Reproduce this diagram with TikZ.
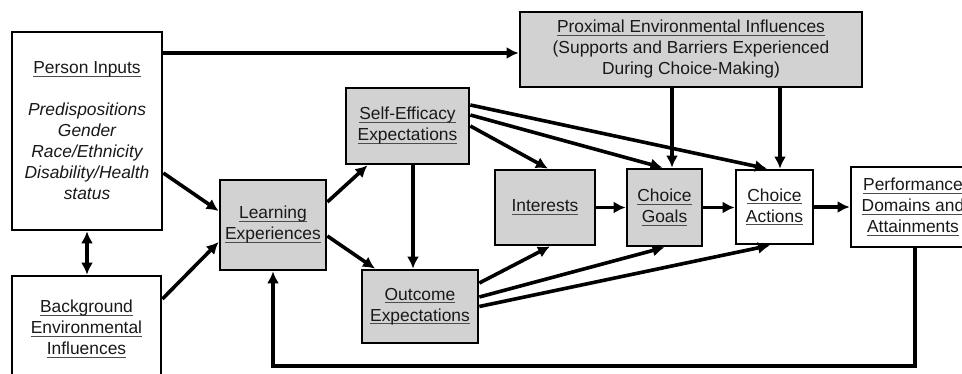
\documentclass[tikz,border=0pt]{standalone}
\usepackage{fontspec}
\setmainfont{Liberation Sans}
\usetikzlibrary{arrows.meta}
\newsavebox{\myulbox}
\newcommand{\ulx}[1]{\leavevmode\sbox{\myulbox}{#1}\rlap{\color{black!70}\vrule width\wd\myulbox height -2.0pt depth 3.0pt}\usebox{\myulbox}}
\begin{document}
\begin{tikzpicture}[x=1pt,y=-1pt,
  box/.style={draw=black,line width=2.7pt,align=center,inner sep=0pt,
    font=\fontsize{17.4}{21}\selectfont,text=black!90},
  gbox/.style={box,fill=gray!35},
  arr/.style={line width=3.6pt,-{Latex[length=12pt,width=12pt]}},
  darr/.style={line width=3.6pt,{Latex[length=12pt,width=12pt]}-{Latex[length=12pt,width=12pt]}}]
\useasboundingbox (0,0) rectangle (962,374);
\clip (0,0) rectangle (962,374);
\fill[white] (0,0) rectangle (962,374);
% nodes
\node[box,minimum width=150pt,minimum height=198pt] (person) at (87,131)
  {\ulx{Person Inputs}\\[21pt]\itshape Predispositions\\\itshape Gender\\\itshape Race/Ethnicity\\\itshape Disability/Health\\\itshape status};
\node[box,minimum width=149pt,minimum height=106pt] (bg) at (86.5,329)
  {\ulx{Background}\\\ulx{Environmental}\\\ulx{Influences}};
\node[gbox,minimum width=106pt,minimum height=90pt] (learn) at (273,225)
  {\ulx{Learning}\\\ulx{Experiences}};
\node[gbox,minimum width=342pt,minimum height=75pt] (prox) at (691,49.5)
  {\ulx{Proximal Environmental Influences}\\(Supports and Barriers Experienced\\During Choice-Making)};
\node[gbox,minimum width=123pt,minimum height=76pt] (se) at (407.5,126)
  {\ulx{Self-Efficacy}\\\ulx{Expectations}};
\node[gbox,minimum width=116pt,minimum height=73pt] (oe) at (420,306.5)
  {\ulx{Outcome}\\\ulx{Expectations}};
\node[gbox,minimum width=100pt,minimum height=75pt] (int) at (545,207.5)
  {\ulx{Interests}};
\node[gbox,minimum width=75pt,minimum height=77pt] (cg) at (664.5,207.5)
  {\ulx{Choice}\\\ulx{Goals}};
\node[box,minimum width=77pt,minimum height=74pt] (ca) at (774.5,207)
  {\ulx{Choice}\\\ulx{Actions}};
\node[box,minimum width=124pt,minimum height=80pt] (perf) at (913,207)
  {\ulx{Performance}\\\ulx{Domains and}\\\ulx{Attainments}};
% connectors
\draw[darr] (person.south) -- (person.south |- bg.north);
\draw[arr] ([yshift=-42pt]person.east) -- ([yshift=14pt]learn.west);
\draw[arr] ([yshift=30pt]bg.east) -- ([yshift=-17pt]learn.west);
\draw[arr] ([yshift=78pt]person.east) -- ([yshift=78pt]person.east -| prox.west);
\draw[arr] ([yshift=23pt]learn.east) -- ([xshift=-40pt]se.south);
\draw[arr] ([yshift=-11pt]learn.east) -- ([xshift=-45pt]oe.north);
\draw[arr] ([xshift=5.5pt]se.south) -- ([xshift=5.5pt]se.south |- oe.north);
\draw[arr] (se.east) -- ([xshift=3pt]int.north);
\draw[arr] ([yshift=11pt]se.east) -- ([xshift=-2pt]cg.north);
\draw[arr] ([yshift=21pt]se.east) -- ([xshift=-7.5pt]ca.north);
\draw[arr] (int.east) -- (int.east -| cg.west);
\draw[arr] ([yshift=23.5pt]oe.east) -- ([xshift=5pt]int.south);
\draw[arr] ([yshift=9.5pt]oe.east) -- (cg.south);
\draw[arr] (oe.east) -- ([xshift=-4.5pt]ca.south);
\draw[arr] (cg.east) -- (cg.east -| ca.west);
\draw[arr] (ca.east) -- (ca.east -| perf.west);
\draw[arr] ([xshift=7.5pt]cg.north |- prox.south) -- ([xshift=7.5pt]cg.north);
\draw[arr] ([xshift=5.5pt]ca.north |- prox.south) -- ([xshift=5.5pt]ca.north);
\coordinate (fb) at (0,366);
\draw[arr] ([xshift=2pt]perf.south) |- (fb -| learn.south) -- (learn.south);
\end{tikzpicture}
\end{document}
